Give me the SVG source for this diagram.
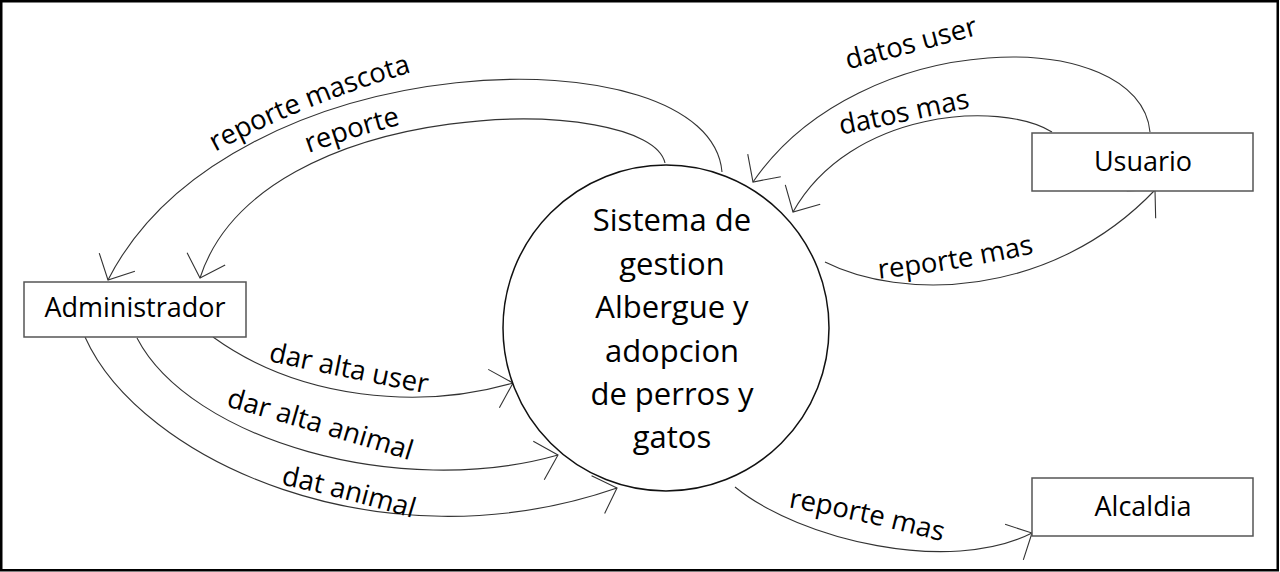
<svg xmlns="http://www.w3.org/2000/svg" width="1280" height="572" viewBox="0 0 1280 572">
<style>
.box{fill:#fff;stroke:#555;stroke-width:1.5}
.circ{fill:#fff;stroke:#111;stroke-width:1.5}
.lbl{font-family:"Open Sans","Noto Sans",sans-serif;fill:#000}
.node{font-size:27px;text-anchor:middle}
.edge{font-size:27.5px;text-anchor:middle}
.main{font-size:31px;text-anchor:middle}
.conn{fill:none;stroke:#333;stroke-width:1.1;marker-end:url(#arr)}
</style>
<defs>
<marker id="arr" markerUnits="userSpaceOnUse" markerWidth="60" markerHeight="60" viewBox="-30 -30 60 60" refX="0" refY="0" orient="auto" overflow="visible">
<path d="M-20,-20 L0,0 L-20,20" fill="none" stroke="#333" stroke-width="1.1"/>
</marker>
<path id="t1" d="M190,166 Q300,102 440,64"/>
<path id="t2" d="M290,160 Q355,135 420,120"/>
<path id="t3" d="M255,358 Q345,378 440,396"/>
<path id="t4" d="M210,402 Q320,432 425,465"/>
<path id="t5" d="M268,482 Q345,497 425,522"/>
<path id="t6" d="M775,505 Q865,520 955,545"/>
<path id="t7" d="M865,280 Q955,272 1048,250"/>
<path id="t8" d="M830,137 Q905,122 982,105"/>
<path id="t9" d="M835,73 Q912,53 992,31"/>
</defs>
<rect x="1.25" y="1.25" width="1276.5" height="569" fill="#fff" stroke="#000" stroke-width="2.5"/>
<g id="connectors">
<path class="conn" d="M722,172 C710,30 230,40 108,280"/>
<path class="conn" d="M665,163 C650,92 260,92 200,278"/>
<path class="conn" d="M213,337 C300,400 420,410 513,383"/>
<path class="conn" d="M137,338 C190,440 400,500 558,455"/>
<path class="conn" d="M85,337 C140,460 380,570 617,488"/>
<path class="conn" d="M735,487 C800,540 950,575 1032,533"/>
<path class="conn" d="M825,262 C900,300 1050,300 1155,190"/>
<path class="conn" d="M1052,132 C1000,100 850,110 793,212"/>
<path class="conn" d="M1150,132 C1140,25 860,25 753,182"/>
</g>
<g id="edge-labels" class="lbl edge">
<text><textPath href="#t1" startOffset="50%">reporte mascota</textPath></text>
<text><textPath href="#t2" startOffset="50%">reporte</textPath></text>
<text><textPath href="#t3" startOffset="50%">dar alta user</textPath></text>
<text><textPath href="#t4" startOffset="50%">dar alta animal</textPath></text>
<text><textPath href="#t5" startOffset="50%">dat animal</textPath></text>
<text><textPath href="#t6" startOffset="50%">reporte mas</textPath></text>
<text><textPath href="#t7" startOffset="50%">reporte mas</textPath></text>
<text><textPath href="#t8" startOffset="50%">datos mas</textPath></text>
<text><textPath href="#t9" startOffset="50%">datos user</textPath></text>
</g>
<g id="sistema">
<circle class="circ" cx="666" cy="328" r="163"/>
<text class="lbl main" x="672"><tspan x="672" y="231">Sistema de</tspan><tspan x="672" y="275">gestion</tspan><tspan x="672" y="318">Albergue y</tspan><tspan x="672" y="362">adopcion</tspan><tspan x="672" y="405">de perros y</tspan><tspan x="672" y="448">gatos</tspan></text>
</g>
<g id="administrador">
<rect class="box" x="24" y="282" width="222" height="55"/>
<text class="lbl node" x="135" y="317">Administrador</text>
</g>
<g id="usuario">
<rect class="box" x="1032" y="133" width="221" height="58"/>
<text class="lbl node" x="1143" y="171">Usuario</text>
</g>
<g id="alcaldia">
<rect class="box" x="1032" y="478" width="221" height="58"/>
<text class="lbl node" x="1143" y="516">Alcaldia</text>
</g>
</svg>
